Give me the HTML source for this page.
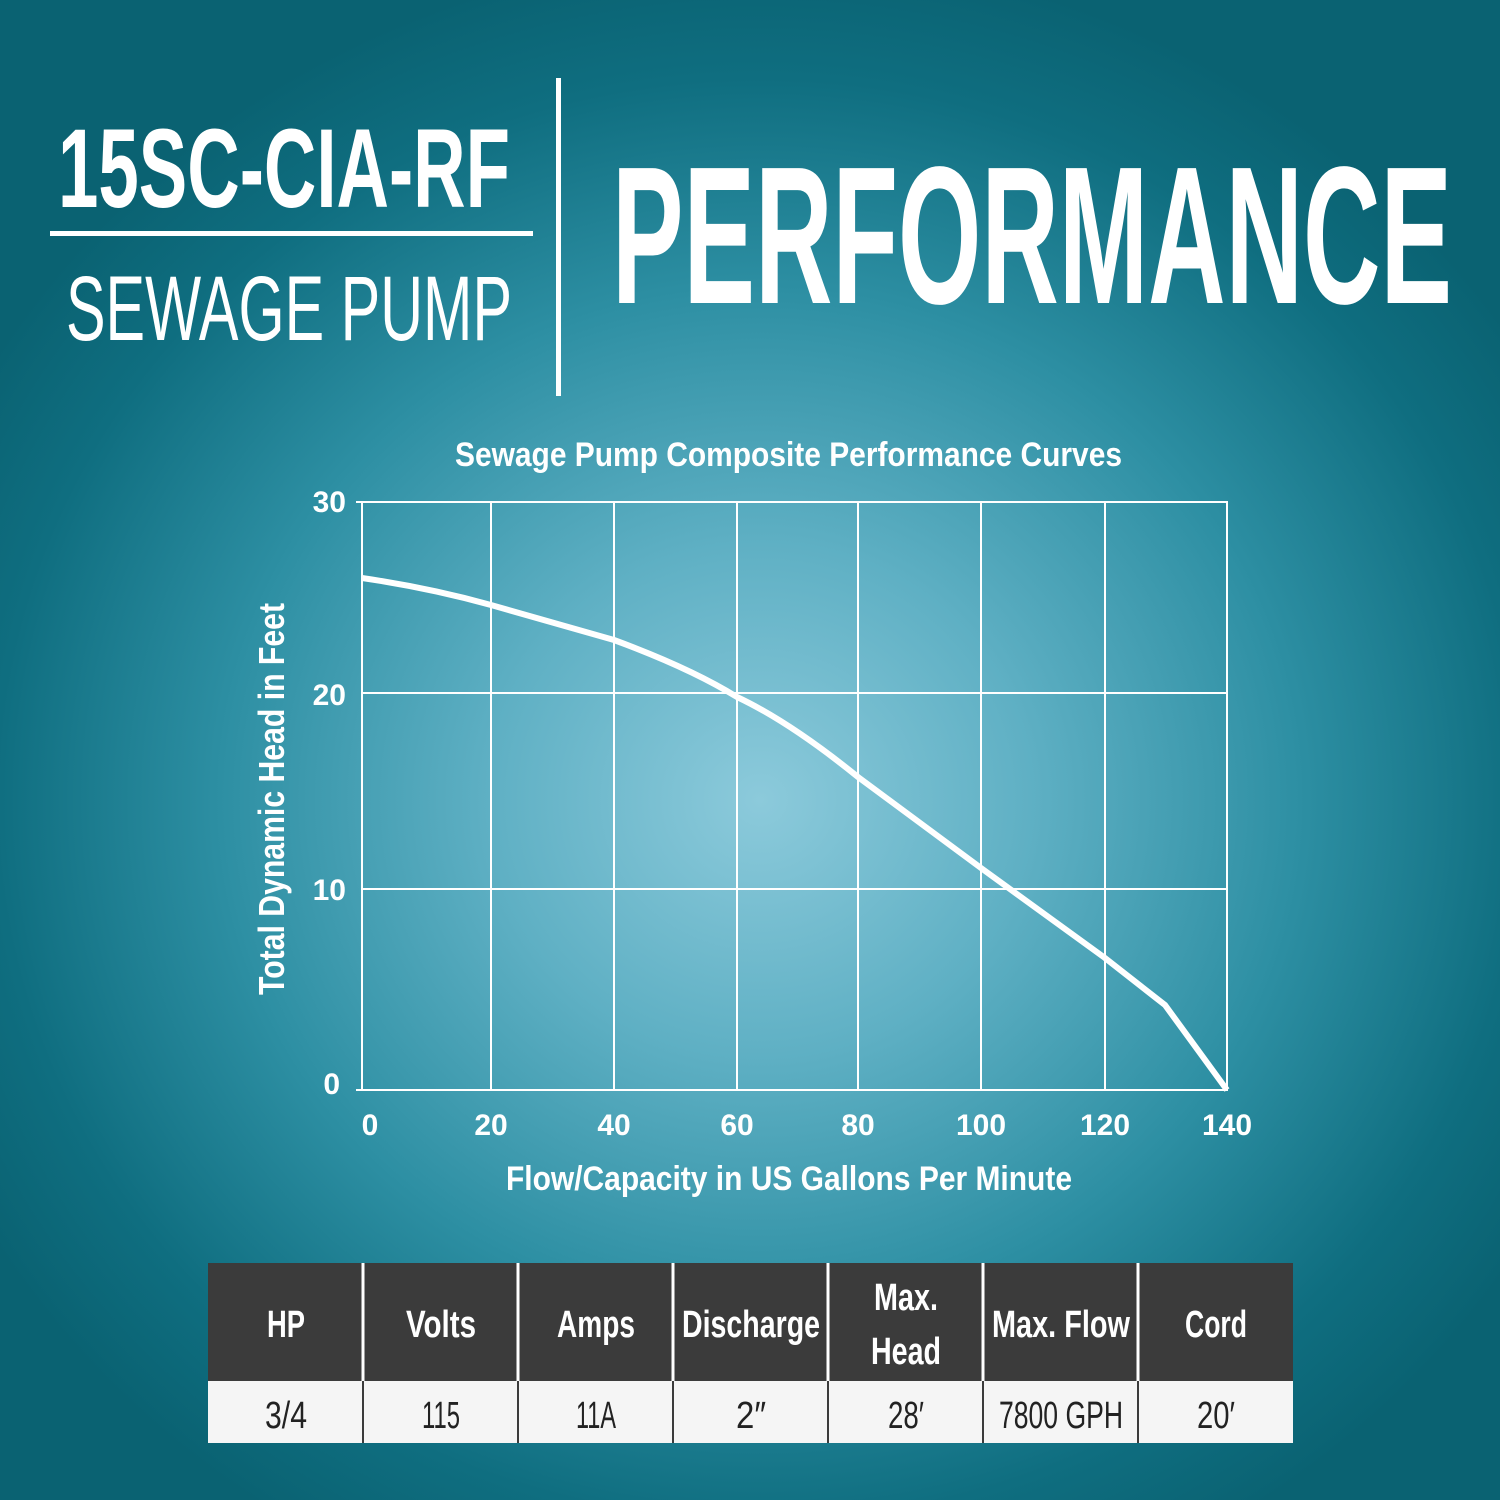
<!DOCTYPE html>
<html><head><meta charset="utf-8"><style>
html,body{margin:0;padding:0;}
body{width:1500px;height:1500px;overflow:hidden;background:radial-gradient(ellipse 900px 850px at 760px 800px,#8ccadb 0%,#5fb0c4 30%,#2d8fa3 60%,#0f6e80 85%,#0a6272 100%);}
svg{position:absolute;left:0;top:0;}
text{font-family:"Liberation Sans",sans-serif;fill:#fff;}
</style></head><body>
<svg width="1500" height="1500" viewBox="0 0 1500 1500">
<text x="58" y="207" font-size="112" font-weight="bold" textLength="452" lengthAdjust="spacingAndGlyphs">15SC-CIA-RF</text>
<rect x="50" y="231" width="483" height="5" fill="#fff"/>
<text x="66" y="340" font-size="92" textLength="446" lengthAdjust="spacingAndGlyphs">SEWAGE PUMP</text>
<rect x="556" y="78" width="5" height="318" fill="#fff"/>
<text x="612" y="303" font-size="196" font-weight="bold" textLength="840" lengthAdjust="spacingAndGlyphs">PERFORMANCE</text>

<text x="455" y="466" font-size="34" font-weight="bold" textLength="667" lengthAdjust="spacingAndGlyphs">Sewage Pump Composite Performance Curves</text>
<g stroke="#fff" stroke-width="2" fill="none">
<rect x="362" y="502" width="865" height="588"/>
<line x1="491" y1="502" x2="491" y2="1090"/><line x1="614" y1="502" x2="614" y2="1090"/>
<line x1="737" y1="502" x2="737" y2="1090"/><line x1="858" y1="502" x2="858" y2="1090"/>
<line x1="981" y1="502" x2="981" y2="1090"/><line x1="1105" y1="502" x2="1105" y2="1090"/>
<line x1="362" y1="693" x2="1227" y2="693"/><line x1="362" y1="889" x2="1227" y2="889"/>
<line x1="356" y1="502" x2="362" y2="502"/><line x1="356" y1="1090" x2="362" y2="1090"/>
</g>
<path d="M362 578 Q430 588 491 605 L614 640 Q690 668 737 697 Q790 722 858 777 L981 868 L1105 958 L1165 1005 L1227 1090" stroke="#fff" stroke-width="6" fill="none"/>
<g font-size="30" font-weight="bold" text-anchor="middle">
<text x="370" y="1135">0</text><text x="491" y="1135">20</text><text x="614" y="1135">40</text><text x="737" y="1135">60</text><text x="858" y="1135">80</text><text x="981" y="1135">100</text><text x="1105" y="1135">120</text><text x="1227" y="1135">140</text>
</g>
<g font-size="30" font-weight="bold" text-anchor="end">
<text x="346" y="512">30</text><text x="346" y="705">20</text><text x="346" y="900">10</text><text x="340" y="1094">0</text>
</g>
<text x="506" y="1190" font-size="34" font-weight="bold" textLength="566" lengthAdjust="spacingAndGlyphs">Flow/Capacity in US Gallons Per Minute</text>
<text transform="translate(284,995) rotate(-90)" font-size="36" font-weight="bold" textLength="392" lengthAdjust="spacingAndGlyphs">Total Dynamic Head in Feet</text>

<rect x="208" y="1263" width="1085" height="118" fill="#3b3b3b"/>
<rect x="208" y="1381" width="1085" height="62" fill="#f5f5f5"/>
<g stroke="#fff" stroke-width="3"><line x1="363" y1="1263" x2="363" y2="1381"/><line x1="518" y1="1263" x2="518" y2="1381"/><line x1="673" y1="1263" x2="673" y2="1381"/><line x1="828" y1="1263" x2="828" y2="1381"/><line x1="983" y1="1263" x2="983" y2="1381"/><line x1="1138" y1="1263" x2="1138" y2="1381"/></g>
<g stroke="#3b3b3b" stroke-width="2"><line x1="363" y1="1381" x2="363" y2="1443"/><line x1="518" y1="1381" x2="518" y2="1443"/><line x1="673" y1="1381" x2="673" y2="1443"/><line x1="828" y1="1381" x2="828" y2="1443"/><line x1="983" y1="1381" x2="983" y2="1443"/><line x1="1138" y1="1381" x2="1138" y2="1443"/></g>
<g font-size="38" font-weight="bold" text-anchor="middle">
<text x="286" y="1337" textLength="38" lengthAdjust="spacingAndGlyphs">HP</text>
<text x="441" y="1337" textLength="70" lengthAdjust="spacingAndGlyphs">Volts</text>
<text x="596" y="1337" textLength="78" lengthAdjust="spacingAndGlyphs">Amps</text>
<text x="751" y="1337" textLength="138" lengthAdjust="spacingAndGlyphs">Discharge</text>
<text x="906" y="1310" textLength="64" lengthAdjust="spacingAndGlyphs">Max.</text>
<text x="906" y="1364" textLength="70" lengthAdjust="spacingAndGlyphs">Head</text>
<text x="1061" y="1337" textLength="138" lengthAdjust="spacingAndGlyphs">Max. Flow</text>
<text x="1216" y="1337" textLength="62" lengthAdjust="spacingAndGlyphs">Cord</text>
</g>
<g font-size="38" text-anchor="middle" style="fill:#222">
<text x="286" y="1428" style="fill:#222" textLength="42" lengthAdjust="spacingAndGlyphs">3/4</text>
<text x="441" y="1428" style="fill:#222" textLength="38" lengthAdjust="spacingAndGlyphs">115</text>
<text x="596" y="1428" style="fill:#222" textLength="40" lengthAdjust="spacingAndGlyphs">11A</text>
<text x="751" y="1428" style="fill:#222" textLength="30" lengthAdjust="spacingAndGlyphs">2″</text>
<text x="906" y="1428" style="fill:#222" textLength="36" lengthAdjust="spacingAndGlyphs">28′</text>
<text x="1061" y="1428" style="fill:#222" textLength="124" lengthAdjust="spacingAndGlyphs">7800 GPH</text>
<text x="1216" y="1428" style="fill:#222" textLength="38" lengthAdjust="spacingAndGlyphs">20′</text>
</g>
</svg>
</body></html>
